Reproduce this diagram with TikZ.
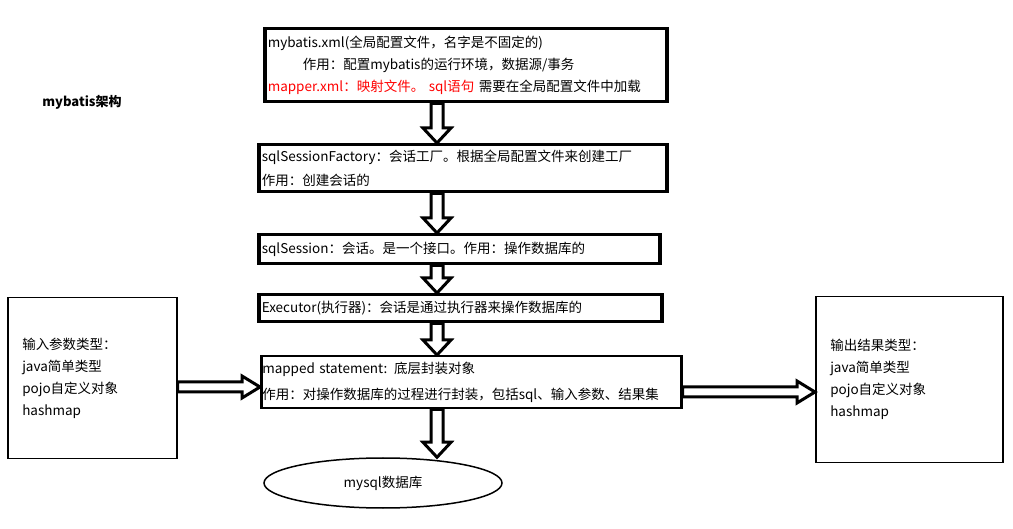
\documentclass[tikz,border=0pt]{standalone}
\usepackage{fontspec}
\setmainfont{Noto Sans CJK SC}
\usetikzlibrary{calc,shapes.geometric}
\tikzset{
 box/.style={draw,line width=#1,rectangle,align=left,inner sep=3pt,anchor=north west,font=\fontsize{13.5}{22}\selectfont},
 box/.default=3.5,
 blk/.style={draw,line width=3,fill=white,line join=miter}
}
\newcommand\blockdown[2]{\draw[blk] let \p1=(#1.south), \p2=(#2.north) in
 (437-6,\y1) -- (437+6,\y1) -- (437+6,\y2+15) -- (437+14,\y2+15) -- (437,\y2) -- (437-14,\y2+15) -- (437-6,\y2+15) -- cycle;}
\newcommand\blockright[3]{\draw[blk] let \p1=(#1.east), \p2=(#2.west) in
 (\x1,#3-5) -- (\x2-18,#3-5) -- (\x2-18,#3-11) -- (\x2,#3) -- (\x2-18,#3+11) -- (\x2-18,#3+5) -- (\x1,#3+5) -- cycle;}
\begin{document}
\begin{tikzpicture}[x=1pt,y=-1pt]
\useasboundingbox (0,0) rectangle (1013,529);
\node[font=\bfseries\fontsize{13}{15}\selectfont] (title) at (82,102) {mybatis架构};
\node[box,minimum width=402,minimum height=73,text width=396] (cfg) at (263,27)
 {mybatis.xml(全局配置文件，名字是不固定的)\\\hspace*{2.6em}作用：配置mybatis的运行环境，数据源/事务\\\textcolor{red}{mapper.xml：映射文件。 sql语句}\ 需要在全局配置文件中加载};
\node[box,minimum width=408,minimum height=47,text width=402,font=\fontsize{13.5}{24}\selectfont] (fac) at (257,143)
 {sqlSessionFactory：会话工厂。根据全局配置文件来创建工厂\\作用：创建会话的};
\node[box,minimum width=401,minimum height=29,text width=395] (ses) at (257,233)
 {sqlSession：会话。是一个接口。作用：操作数据库的};
\node[box,minimum width=403,minimum height=27,text width=397] (exe) at (257,293)
 {Executor(执行器)：会话是通过执行器来操作数据库的};
\node[box=2.5,minimum width=420,minimum height=52,text width=418,inner sep=1pt,font=\fontsize{13.5}{26}\selectfont] (ms) at (260,355)
 {mapped statement: 底层封装对象\\作用：对操作数据库的过程进行封装，包括sql、输入参数、结果集};
\node[box=1.5,minimum width=169,minimum height=161,text width=140,inner sep=14pt] (in) at (7,297)
 {输入参数类型：\\java简单类型\\pojo自定义对象\\hashmap};
\node[box=1.5,minimum width=187,minimum height=166,text width=158,inner sep=14pt] (out) at (815,296)
 {输出结果类型：\\java简单类型\\pojo自定义对象\\hashmap};
\node[draw,line width=1.5,ellipse,minimum width=238,minimum height=50,font=\fontsize{13.5}{15}\selectfont] (db) at (383,483) {mysql数据库};
\blockdown{cfg}{fac}
\blockdown{fac}{ses}
\blockdown{ses}{exe}
\blockdown{exe}{ms}
\blockdown{ms}{db}
\blockright{in}{ms}{387}
\blockright{ms}{out}{392}
\end{tikzpicture}
\end{document}
